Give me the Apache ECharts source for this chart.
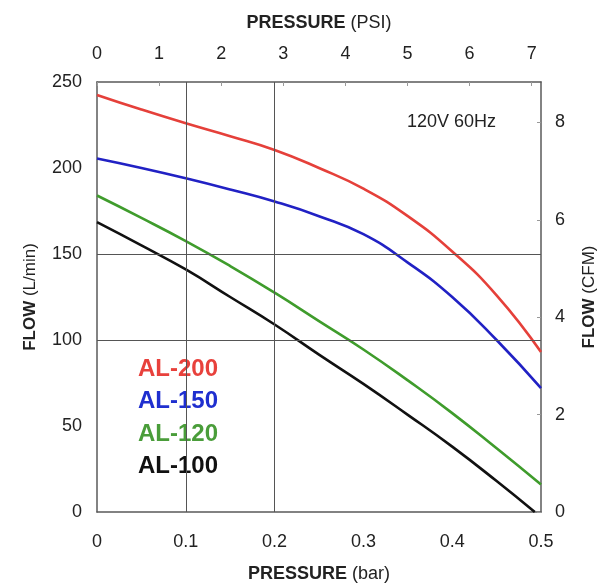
<!DOCTYPE html>
<html>
<head>
<meta charset="utf-8">
<script src="https://cdn.jsdelivr.net/npm/echarts@6/dist/echarts.min.js"></script>
<style>
  html, body { margin: 0; padding: 0; background: #fff; }
  #chart { width: 597px; height: 583px; }
</style>
</head>
<body>
<div id="chart"></div>
<script>
// ---- data ----
const pressureBar   = [0, 0.05, 0.1, 0.15, 0.2, 0.25, 0.3, 0.35, 0.4, 0.45, 0.5];
const al100Pressure = [0, 0.05, 0.1, 0.15, 0.2, 0.25, 0.3, 0.35, 0.4, 0.45, 0.493];
const al200 = [242.5, 234, 226, 218.5, 210.5, 200, 188, 172, 151.5, 126, 93];
const al150 = [205.5, 200, 194, 187.5, 180.5, 172, 161.5, 145, 125, 100, 72];
const al120 = [184, 171, 157.5, 143, 127.5, 111, 94.5, 76.5, 57.5, 37, 16];
const al100 = [168.5, 155, 141, 125, 109, 91.5, 74.5, 56.5, 38, 18, 0];
const seriesNames = ['AL-200', 'AL-150', 'AL-120', 'AL-100'];
const seriesColors = ['#e5403a', '#2121c4', '#3f9c2c', '#111111'];
const legendColors = ['#e8413c', '#1f2fcf', '#4a9d3a', '#111111'];
const barTicks = ['0', '0.1', '0.2', '0.3', '0.4', '0.5'];
const gridBar = [0.1, 0.2];      // vertical reference lines (bar)
const gridFlow = [100, 150];     // horizontal reference lines (L/min)
const annotation = '120V 60Hz';

const BAR_MAX = 0.5;
const FLOW_MAX = 250;
const PSI_MAX = 7.15;
const CFM_MAX = FLOW_MAX * 0.0353147;

const FONT = '"Liberation Sans", Arial, Helvetica, sans-serif';
const TXT = '#222';
const AX = '#5a5a5a';

function pairs(xs, ys) { return xs.map((x, i) => [x, ys[i]]); }

const chart = echarts.init(document.getElementById('chart'), null, { renderer: 'canvas' });

const lineData = [
  pairs(pressureBar, al200),
  pairs(pressureBar, al150),
  pairs(pressureBar, al120),
  pairs(al100Pressure, al100)
];

const frameLine = { show: true, onZero: false, lineStyle: { color: AX, width: 1.5 } };

const option = {
  animation: false,
  backgroundColor: '#fff',
  textStyle: { fontFamily: FONT },
  grid: { left: 97, right: 56, top: 82, bottom: 71, containLabel: false, outerBoundsMode: 'none' },
  legend: {
    orient: 'vertical',
    left: 128,
    top: 352,
    icon: 'none',
    itemWidth: 0,
    itemHeight: 10,
    itemGap: 8.5,
    selectedMode: false,
    textStyle: { fontSize: 24, fontWeight: 'bold', fontFamily: FONT, lineHeight: 24 },
    data: seriesNames.map((n, i) => ({ name: n, textStyle: { color: legendColors[i] } }))
  },
  graphic: [{
    type: 'text',
    left: 407,
    top: 113,
    style: { text: annotation, fontSize: 18, fontFamily: FONT, fill: TXT }
  }],
  xAxis: [
    {
      type: 'value', position: 'bottom',
      min: 0, max: BAR_MAX, interval: 0.1,
      name: '{b|PRESSURE} (bar)',
      nameLocation: 'middle', nameGap: 53,
      nameTextStyle: { fontSize: 18, color: TXT, fontFamily: FONT,
        rich: { b: { fontSize: 18, fontWeight: 'bold', color: TXT, fontFamily: FONT } } },
      axisLine: frameLine,
      axisTick: { show: false },
      splitLine: { show: false },
      axisLabel: { margin: 21, fontSize: 18, color: TXT, fontFamily: FONT,
        formatter: (v) => barTicks[Math.round(v * 10)] }
    },
    {
      type: 'value', position: 'top',
      min: 0, max: PSI_MAX, interval: 1,
      name: '{b|PRESSURE} (PSI)',
      nameLocation: 'middle', nameGap: 50,
      nameTextStyle: { fontSize: 18, color: TXT, fontFamily: FONT,
        rich: { b: { fontSize: 18, fontWeight: 'bold', color: TXT, fontFamily: FONT } } },
      axisLine: frameLine,
      axisTick: { show: true, inside: true, length: 4, lineStyle: { color: '#999' } },
      splitLine: { show: false },
      axisLabel: { margin: 19, fontSize: 18, color: TXT, fontFamily: FONT, showMaxLabel: false }
    }
  ],
  yAxis: [
    {
      type: 'value', position: 'left',
      min: 0, max: FLOW_MAX, interval: 50,
      name: '{b|FLOW} (L/min)',
      nameLocation: 'middle', nameGap: 58, nameRotate: 90,
      nameTextStyle: { fontSize: 17, color: TXT, fontFamily: FONT,
        rich: { b: { fontSize: 17, fontWeight: 'bold', color: TXT, fontFamily: FONT } } },
      axisLine: frameLine,
      axisTick: { show: false },
      splitLine: { show: false },
      axisLabel: { margin: 15, fontSize: 18, color: TXT, fontFamily: FONT }
    },
    {
      type: 'value', position: 'right',
      min: 0, max: CFM_MAX, interval: 2,
      name: '{b|FLOW} (CFM)',
      nameLocation: 'middle', nameGap: 40, nameRotate: 90,
      nameTextStyle: { fontSize: 17, color: TXT, fontFamily: FONT,
        rich: { b: { fontSize: 17, fontWeight: 'bold', color: TXT, fontFamily: FONT } } },
      axisLine: frameLine,
      axisTick: { show: true, inside: true, length: 4, lineStyle: { color: '#999' } },
      splitLine: { show: false },
      axisLabel: { margin: 14, fontSize: 18, color: TXT, fontFamily: FONT, showMaxLabel: false }
    }
  ],
  series: [
    {
      type: 'line', name: '_grid', xAxisIndex: 0, yAxisIndex: 0, data: [], z: 1,
      silent: true,
      markLine: {
        silent: true, symbol: 'none', animation: false,
        label: { show: false },
        lineStyle: { color: '#555', width: 1, type: 'solid' },
        emphasis: { disabled: true },
        data: gridBar.map(v => ({ xAxis: v })).concat(gridFlow.map(v => ({ yAxis: v })))
      }
    }
  ].concat(seriesNames.map((n, i) => ({
    type: 'line', name: n, xAxisIndex: 0, yAxisIndex: 0, z: 3,
    data: lineData[i],
    smooth: 0.5, showSymbol: false, symbol: 'none',
    lineStyle: { color: seriesColors[i], width: 2.6 },
    itemStyle: { color: seriesColors[i] },
    emphasis: { disabled: true }
  })))
};

chart.setOption(option);
</script>
</body>
</html>
